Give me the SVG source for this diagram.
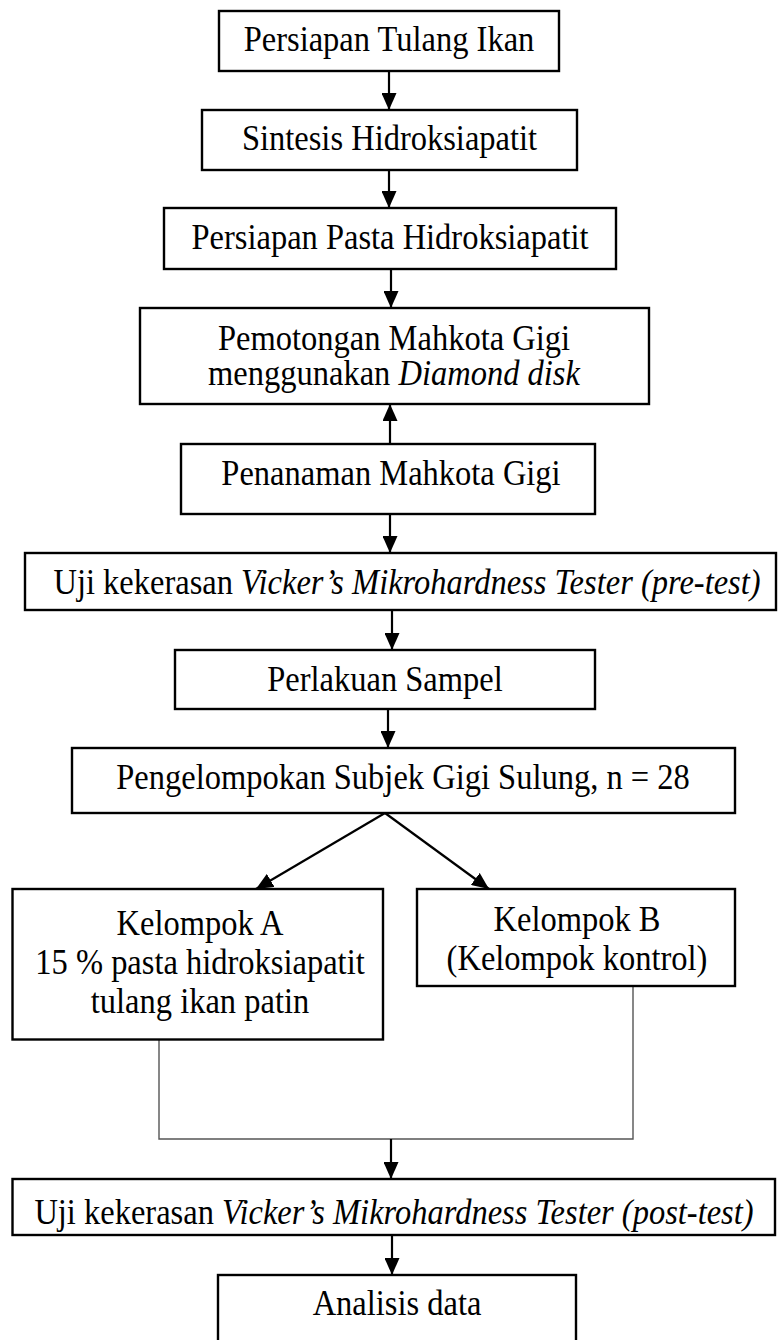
<svg xmlns="http://www.w3.org/2000/svg" width="778" height="1340" viewBox="0 0 778 1340">
<style>
.box{fill:#fff;stroke:#000;stroke-width:2.4}
.t{font-family:"Liberation Serif","Times New Roman",serif;font-size:32.5px;fill:#000;text-anchor:middle}
.i{font-style:italic}
.c{fill:none;stroke:#000;stroke-width:2.2}
.thin{fill:none;stroke:#555;stroke-width:1.4}
</style>
<defs>
<marker id="ah" markerUnits="userSpaceOnUse" markerWidth="17" markerHeight="15" refX="17" refY="7.5" orient="auto">
<path d="M0,0 L17,7.5 L0,15 z" fill="#000"/>
</marker>
</defs>
<rect width="778" height="1340" fill="#fff"/>
<g id="connectors">
<line class="c" x1="389" y1="71" x2="389" y2="110" marker-end="url(#ah)"/>
<line class="c" x1="389" y1="170" x2="389" y2="208" marker-end="url(#ah)"/>
<line class="c" x1="391" y1="269" x2="391" y2="308" marker-end="url(#ah)"/>
<line class="c" x1="390" y1="444" x2="390" y2="404" marker-end="url(#ah)"/>
<line class="c" x1="390" y1="514" x2="390" y2="553" marker-end="url(#ah)"/>
<line class="c" x1="392" y1="610" x2="392" y2="650" marker-end="url(#ah)"/>
<line class="c" x1="388" y1="709" x2="388" y2="748" marker-end="url(#ah)"/>
<line class="c" x1="385" y1="813" x2="256" y2="889" marker-end="url(#ah)"/>
<line class="c" x1="385" y1="813" x2="489" y2="889" marker-end="url(#ah)"/>
<polyline class="thin" points="159,1039.5 159,1139 633,1139 633,986"/>
<line class="c" x1="391" y1="1139" x2="391" y2="1179" marker-end="url(#ah)"/>
<line class="c" x1="392" y1="1235" x2="392" y2="1275" marker-end="url(#ah)"/>
</g>
<g id="n1"><rect class="box" x="219" y="11" width="340" height="60"/><text class="t" transform="translate(389,51) scale(1,1.1)">Persiapan Tulang Ikan</text></g>
<g id="n2"><rect class="box" x="202" y="110" width="375" height="60"/><text class="t" transform="translate(389.5,149.5) scale(1,1.1)">Sintesis Hidroksiapatit</text></g>
<g id="n3"><rect class="box" x="164" y="208" width="452" height="61"/><text class="t" transform="translate(390,248.5) scale(1,1.1)">Persiapan Pasta Hidroksiapatit</text></g>
<g id="n4"><rect class="box" x="140" y="308" width="509" height="96"/><text class="t" transform="translate(394,350) scale(1,1.1)">Pemotongan Mahkota Gigi</text><text class="t" transform="translate(394,385) scale(1,1.1)">menggunakan <tspan class="i">Diamond disk</tspan></text></g>
<g id="n5"><rect class="box" x="181" y="444" width="414" height="70"/><text class="t" transform="translate(391,485) scale(1,1.1)">Penanaman Mahkota Gigi</text></g>
<g id="n6"><rect class="box" x="25" y="553" width="751" height="57"/><text class="t" transform="translate(407,594) scale(1,1.1)">Uji kekerasan <tspan class="i">Vicker’s Mikrohardness Tester (pre-test)</tspan></text></g>
<g id="n7"><rect class="box" x="175" y="650" width="420" height="59"/><text class="t" transform="translate(385,690.5) scale(1,1.1)">Perlakuan Sampel</text></g>
<g id="n8"><rect class="box" x="72" y="748" width="663" height="65"/><text class="t" transform="translate(403,789) scale(1,1.1)">Pengelompokan Subjek Gigi Sulung, n = 28</text></g>
<g id="nA"><rect class="box" x="12.5" y="889" width="370.5" height="150.5"/><text class="t" transform="translate(200,935) scale(1,1.1)">Kelompok A</text><text class="t" transform="translate(200,974) scale(1,1.1)">15 % pasta hidroksiapatit</text><text class="t" transform="translate(200,1013) scale(1,1.1)">tulang ikan patin</text></g>
<g id="nB"><rect class="box" x="417" y="889" width="318" height="97"/><text class="t" transform="translate(577,931) scale(1,1.1)">Kelompok B</text><text class="t" transform="translate(577,970) scale(1,1.1)">(Kelompok kontrol)</text></g>
<g id="n9"><rect class="box" x="12.5" y="1179" width="762.5" height="56"/><text class="t" transform="translate(394,1223.5) scale(1,1.1)">Uji kekerasan <tspan class="i">Vicker’s Mikrohardness Tester (post-test)</tspan></text></g>
<g id="n10"><rect class="box" x="218" y="1275" width="358" height="80"/><text class="t" transform="translate(397,1315) scale(1,1.1)">Analisis data</text></g>
</svg>
